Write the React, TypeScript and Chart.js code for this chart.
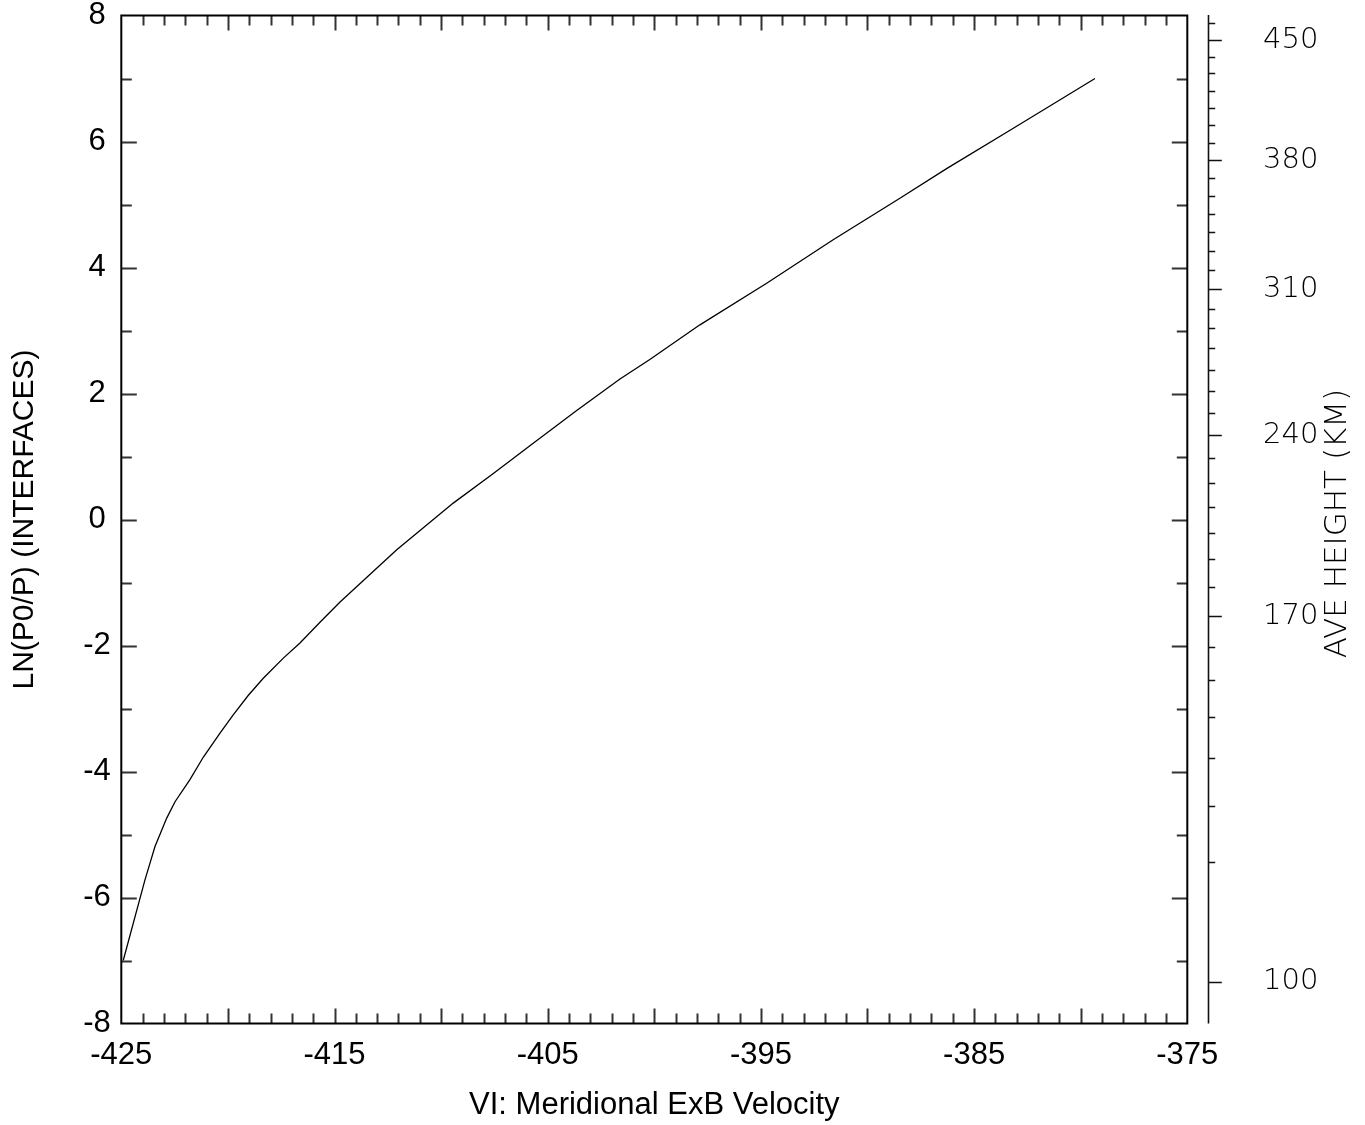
import React, { useEffect, useRef } from 'react';
import { Chart, registerables } from 'chart.js';

Chart.register(...registerables);

// Curve: VI meridional ExB velocity vs LN(P0/P)
const VELOCITY = [
  -424.91, -423.89, -423.42, -422.87, -422.48, -421.78, -421.15, -420.37, -419.75, -419.04,
  -418.34, -417.4, -416.62, -415.68, -414.74, -412.08, -409.43, -407.55, -405.68, -403.64,
  -401.61, -400.21, -397.86, -394.73, -391.61, -388.48, -386.29, -383.16, -379.33,
];
const LN_P0_P = [
  -7.0, -5.72, -5.19, -4.74, -4.48, -4.13, -3.77, -3.39, -3.1, -2.79,
  -2.52, -2.2, -1.96, -1.63, -1.31, -0.48, 0.26, 0.73, 1.21, 1.73,
  2.23, 2.54, 3.09, 3.75, 4.44, 5.1, 5.57, 6.21, 7.0,
];

// Axis ranges / ticks
const X_MIN = -425;
const X_MAX = -375;
const X_LABEL_STEP = 10;
const X_MINOR_STEP = 1;
const X_MAJOR_EVERY = 5;
const Y_MIN = -8;
const Y_MAX = 8;
const Y_LABEL_STEP = 2;
const Y_MINOR_STEP = 1;

// Right-hand height axis (km) and the LN(P0/P) level each height sits at
const HEIGHT_KM = [
  460, 450, 440, 430, 420, 410, 400, 390, 380, 370, 360, 350, 340, 330, 320, 310, 300, 290, 280,
  270, 260, 250, 240, 230, 220, 210, 200, 190, 180, 170, 160, 150, 140, 130, 120, 110, 100,
];
const HEIGHT_LN = [
  7.876, 7.611, 7.346, 7.083, 6.806, 6.537, 6.262, 5.981, 5.706, 5.416, 5.135, 4.849, 4.563,
  4.267, 3.96, 3.654, 3.346, 3.035, 2.717, 2.373, 2.04, 1.695, 1.341, 0.971, 0.584, 0.194,
  -0.21, -0.632, -1.076, -1.532, -2.019, -2.548, -3.13, -3.781, -4.548, -5.432, -7.337,
];
const HEIGHT_LABELED = [450, 380, 310, 240, 170, 100];

const X_TITLE = 'VI: Meridional ExB Velocity';
const Y_TITLE = 'LN(P0/P) (INTERFACES)';
const Y2_TITLE = 'AVE HEIGHT (KM)';

const W = 1365;
const H = 1125;
const AREA_LEFT = 121.3;
const AREA_RIGHT = 1187.3;
const AREA_TOP = 15.5;
const AREA_BOTTOM = 1023.5;

const SANS = "'Liberation Sans', Arial, sans-serif";
const THIN = "'DejaVu Sans', sans-serif";

const zeroPad = (s: any) => {
  s.paddingTop = 0;
  s.paddingBottom = 0;
  s.paddingLeft = 0;
  s.paddingRight = 0;
};

const decorPlugin = {
  id: 'decor',
  afterDatasetsDraw(chart: any) {
    const { ctx, chartArea: a, scales } = chart;
    const xs = scales.x;
    const ys = scales.y;
    const y2 = scales.y2;
    ctx.save();
    // inner tick marks
    ctx.strokeStyle = '#333';
    ctx.lineWidth = 2;
    ctx.beginPath();
    for (let v = Y_MIN + Y_MINOR_STEP; v < Y_MAX; v += Y_MINOR_STEP) {
      const p = Math.round(ys.getPixelForValue(v)) + 0.5;
      const len = v % Y_LABEL_STEP === 0 ? 15.5 : 10.5;
      ctx.moveTo(a.left, p);
      ctx.lineTo(a.left + len, p);
      ctx.moveTo(a.right, p);
      ctx.lineTo(a.right - len, p);
    }
    for (let v = X_MIN + X_MINOR_STEP; v < X_MAX; v += X_MINOR_STEP) {
      const p = Math.round(xs.getPixelForValue(v)) + 0.5;
      const len = v % X_MAJOR_EVERY === 0 ? 15 : 10;
      ctx.moveTo(p, a.bottom);
      ctx.lineTo(p, a.bottom - len);
      ctx.moveTo(p, a.top);
      ctx.lineTo(p, a.top + len);
    }
    ctx.stroke();
    // frame
    ctx.strokeStyle = '#000';
    ctx.lineWidth = 2;
    ctx.strokeRect(a.left, a.top, a.right - a.left, a.bottom - a.top);
    // separate height axis
    const ax = Math.round(a.right + 21) + 0.5;
    ctx.strokeStyle = '#111';
    ctx.lineWidth = 1.6;
    ctx.beginPath();
    ctx.moveTo(ax, a.top - 0.5);
    ctx.lineTo(ax, a.bottom);
    HEIGHT_LN.forEach((v, i) => {
      const p = Math.round(y2.getPixelForValue(v)) + 0.5;
      const len = HEIGHT_LABELED.includes(HEIGHT_KM[i]) ? 13.3 : 6.7;
      ctx.moveTo(ax, p);
      ctx.lineTo(ax + len, p);
    });
    ctx.stroke();
    // height axis title, reading bottom to top
    ctx.translate(1338, 523.5);
    ctx.rotate(-Math.PI / 2);
    ctx.font = `200 31px ${THIN}`;
    ctx.fillStyle = '#000';
    ctx.textAlign = 'center';
    ctx.textBaseline = 'middle';
    ctx.fillText(Y2_TITLE, 0, 0);
    ctx.restore();
  },
};

export default function App() {
  const ref = useRef<HTMLCanvasElement | null>(null);
  useEffect(() => {
    if (!ref.current) return;
    const chart = new Chart(ref.current, {
      type: 'line',
      data: {
        datasets: [
          {
            data: VELOCITY.map((x, i) => ({ x, y: LN_P0_P[i] })),
            borderColor: '#000',
            borderWidth: 1.3,
            pointRadius: 0,
            tension: 0,
            fill: false,
            yAxisID: 'y',
          },
        ],
      },
      options: {
        responsive: false,
        animation: false,
        devicePixelRatio: 1,
        layout: { padding: { top: AREA_TOP, left: 0, right: 0, bottom: 0 } },
        plugins: { legend: { display: false }, tooltip: { enabled: false } },
        scales: {
          x: {
            type: 'linear',
            position: 'bottom',
            min: X_MIN,
            max: X_MAX,
            afterFit: (s: any) => {
              s.height = H - AREA_BOTTOM;
              zeroPad(s);
            },
            grid: { display: false, drawTicks: false },
            border: { display: false },
            ticks: {
              stepSize: X_LABEL_STEP,
              padding: 13.4,
              color: '#000',
              font: { family: SANS, size: 31 },
              maxRotation: 0,
              autoSkip: false,
            },
            title: {
              display: true,
              text: X_TITLE,
              color: '#000',
              font: { family: SANS, size: 31 },
              padding: { top: 0, bottom: 1.4 },
            },
          },
          y: {
            type: 'linear',
            position: 'left',
            min: Y_MIN,
            max: Y_MAX,
            afterFit: (s: any) => {
              s.width = AREA_LEFT;
              zeroPad(s);
            },
            grid: { display: false, drawTicks: false },
            border: { display: false },
            ticks: {
              stepSize: Y_LABEL_STEP,
              padding: 10.5,
              crossAlign: 'center',
              color: '#000',
              font: { family: SANS, size: 31 },
              autoSkip: false,
            },
            title: {
              display: true,
              text: Y_TITLE,
              color: '#000',
              font: { family: SANS, size: 30 },
              padding: { top: 7, bottom: 0 },
            },
          },
          y2: {
            type: 'linear',
            position: 'right',
            min: Y_MIN,
            max: Y_MAX,
            afterBuildTicks: (s: any) => {
              s.ticks = HEIGHT_LN.map((v) => ({ value: v }));
            },
            afterFit: (s: any) => {
              s.width = W - AREA_RIGHT;
              zeroPad(s);
            },
            grid: { display: false, drawTicks: false },
            border: { display: false },
            ticks: {
              autoSkip: false,
              padding: 75.7,
              color: '#000',
              font: { family: THIN, size: 29, weight: '200' },
              callback: (_v: any, i: number) =>
                HEIGHT_LABELED.includes(HEIGHT_KM[i]) ? String(HEIGHT_KM[i]) : '',
            },
          },
        },
      },
      plugins: [decorPlugin],
    } as any);
    return () => chart.destroy();
  }, []);
  return (
    <div style={{ position: 'absolute', left: 0, top: 0, width: W, height: H, background: '#fff' }}>
      <canvas ref={ref} width={W} height={H} style={{ width: W, height: H, display: 'block' }} />
    </div>
  );
}
